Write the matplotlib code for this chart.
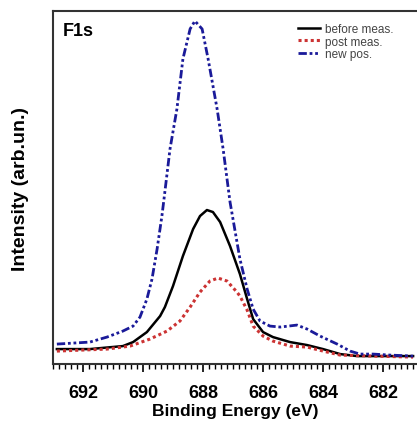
import matplotlib
matplotlib.use("Agg")
import matplotlib.pyplot as plt
from matplotlib.ticker import MultipleLocator

plt.rcParams["font.family"] = ["Liberation Sans", "DejaVu Sans"]

# binding energy (eV) / intensity (arb. units)
be_before = [692.87, 691.77, 690.67, 690.33, 689.87, 689.43, 689.27, 689.0, 688.67, 688.33,
             688.1, 687.87, 687.67, 687.43, 687.1, 686.77, 686.53, 686.33, 686.0, 685.67,
             685.1, 684.53, 684.0, 683.43, 682.87, 682.33, 681.0]
int_before = [15, 15, 18, 22, 32, 48, 57, 78, 108, 135,
              148, 154, 152, 142, 118, 90, 65, 45, 32, 27,
              22, 19, 15, 10, 8, 8, 8]

be_post = [692.87, 691.2, 690.43, 689.77, 689.2, 688.77, 688.43, 688.1, 687.77, 687.5,
           687.2, 686.87, 686.77, 686.53, 686.33, 686.0, 685.67, 685.1, 684.53, 684.0,
           683.43, 682.33, 681.0]
int_post = [13, 15, 18, 25, 33, 43, 57, 72, 83, 86,
            83, 72, 68, 54, 38, 28, 23, 18, 17, 13,
            9, 8, 7]

be_new = [692.87, 691.77, 691.2, 690.67, 690.33, 690.1, 689.87, 689.7, 689.53, 689.37,
          689.3, 689.1, 688.87, 688.67, 688.43, 688.27, 688.03, 687.83, 687.53, 687.33,
          687.1, 686.77, 686.53, 686.33, 686.1, 685.77, 685.43, 684.87, 684.53, 684.1,
          683.53, 683.1, 682.77, 682.33, 681.77, 681.0]
int_new = [20, 22, 27, 33, 38, 47, 65, 85, 115, 148,
           165, 215, 255, 305, 335, 343, 335, 305, 255, 215,
           162, 105, 75, 55, 43, 38, 37, 39, 35, 28,
           20, 13, 10, 10, 9, 8]

fig = plt.figure(figsize=(4.17, 4.27), dpi=100)
ax = fig.add_axes([0.127, 0.145, 0.873, 0.827])

ax.plot(be_before, int_before, color="black", lw=1.8, label="before meas.")
ax.plot(be_post, int_post, color="#cc3333", lw=2.2, ls=(0, (1, 1)), label="post meas.")
ax.plot(be_new, int_new, color="#1a1a99", lw=2.0, ls=(0, (3, 1, 1, 1, 1, 1)), label="new pos.")

ax.set_xlim(693.0, 680.87)
ax.set_ylim(0, 353)

ax.xaxis.set_major_locator(MultipleLocator(2))
ax.xaxis.set_minor_locator(MultipleLocator(0.2))
ax.tick_params(axis="x", which="major", length=6, width=1.2, direction="out", pad=8,
               labelsize=13)
ax.tick_params(axis="x", which="minor", length=3.5, width=1.0, direction="out")
ax.set_yticks([])
for lbl in ax.get_xticklabels():
    lbl.set_fontweight("bold")

for s in ax.spines.values():
    s.set_linewidth(1.5)
    s.set_color("#333333")
ax.spines["right"].set_visible(False)

ax.set_xlabel("Binding Energy (eV)", fontsize=12.5, fontweight="bold", labelpad=2)
ax.set_ylabel("Intensity (arb.un.)", fontsize=14, fontweight="bold", labelpad=17)

ax.text(0.027, 0.97, "F1s", transform=ax.transAxes, fontsize=13, fontweight="bold",
        va="top", ha="left")

leg = ax.legend(loc="upper right", bbox_to_anchor=(0.955, 0.985), frameon=False,
                fontsize=8.5, handlelength=1.9, handletextpad=0.4, labelspacing=0.02,
                borderaxespad=0.2)
for t in leg.get_texts():
    t.set_color("#444444")

fig.savefig("out.png", dpi=100)
